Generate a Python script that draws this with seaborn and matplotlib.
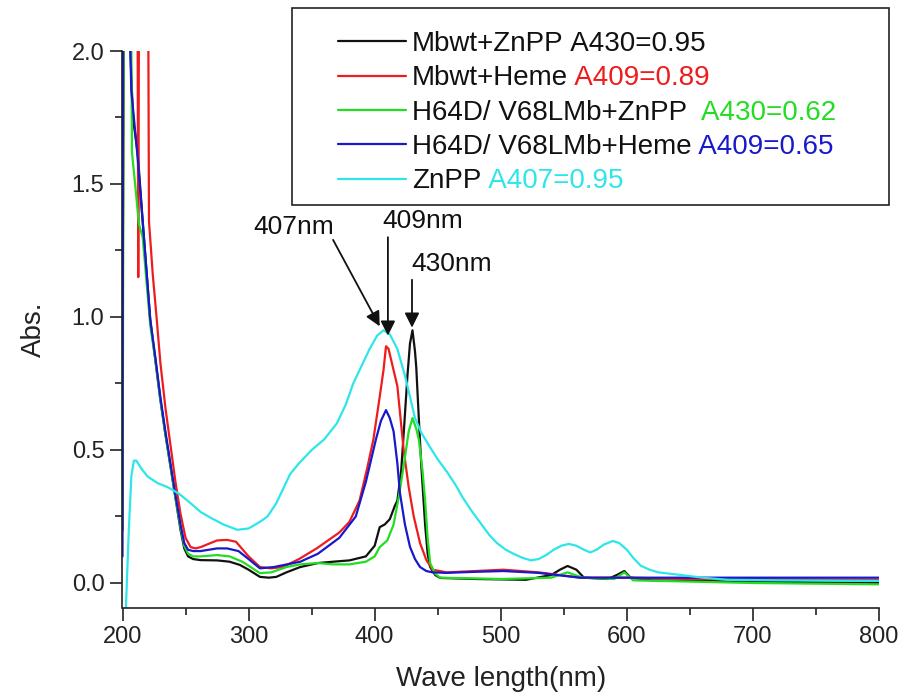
import matplotlib
matplotlib.use("Agg")
import matplotlib.pyplot as plt
from matplotlib.patches import Rectangle
from matplotlib.ticker import MultipleLocator, FormatStrFormatter
import pandas as pd
import seaborn as sns

# ---- spectra (wavelength in nm, absorbance) ----
black_nm = [200, 200.5, 206, 207, 208.5, 212, 216, 222, 226, 230, 234, 238, 242, 246, 249, 252, 256,
            262, 275, 285, 293, 300, 309, 316, 322, 330, 341, 355, 367, 380, 393, 400, 404, 408, 412,
            416, 418, 421, 423, 426, 428, 430, 432, 433, 435, 437, 440, 442, 444, 448, 452, 480, 520,
            540, 547, 553, 560, 566, 585, 592, 598, 603, 620, 700, 800]
black_abs = [0.2, 2.05, 2.05, 1.9, 1.74, 1.62, 1.36, 0.99, 0.84, 0.69, 0.56, 0.44, 0.32, 0.20, 0.13,
             0.10, 0.09, 0.086, 0.085, 0.08, 0.068, 0.05, 0.023, 0.02, 0.023, 0.04, 0.06, 0.075, 0.08,
             0.085, 0.10, 0.14, 0.21, 0.22, 0.24, 0.29, 0.31, 0.42, 0.56, 0.78, 0.90, 0.95, 0.87, 0.81,
             0.62, 0.44, 0.22, 0.11, 0.06, 0.03, 0.019, 0.015, 0.012, 0.03, 0.05, 0.064, 0.05, 0.02,
             0.015, 0.03, 0.045, 0.02, 0.01, 0.005, 0.0]

red_nm = [200, 201, 212, 212.5, 213, 220.5, 221, 224, 227, 230, 234, 238, 242, 246, 250, 254, 258,
          262, 275, 283, 290, 300, 309, 318, 327, 340, 354, 372, 380, 388, 394, 399, 404, 407, 409,
          411, 413, 418, 423, 427, 431, 436, 441, 446, 457, 480, 502, 530, 563, 600, 650, 800]
red_abs = [0.9, 2.05, 2.05, 1.15, 2.05, 2.05, 1.36, 1.16, 1.0, 0.83, 0.66, 0.52, 0.38, 0.26, 0.17,
           0.135, 0.13, 0.135, 0.16, 0.162, 0.155, 0.10, 0.06, 0.055, 0.06, 0.09, 0.13, 0.19, 0.23,
           0.31, 0.43, 0.54, 0.70, 0.80, 0.89, 0.88, 0.84, 0.74, 0.50, 0.36, 0.25, 0.15, 0.086, 0.05,
           0.04, 0.045, 0.05, 0.04, 0.02, 0.02, 0.015, 0.012]

green_nm = [200, 201, 207, 207.5, 210, 213, 216, 222, 226, 230, 234, 238, 242, 246, 249, 252, 256,
            262, 275, 285, 295, 300, 309, 318, 330, 341, 355, 367, 380, 393, 400, 404, 410, 415, 419,
            423, 427, 430, 433, 435, 438, 440, 442, 444, 448, 452, 500, 540, 553, 565, 590, 598, 605,
            700, 800]
green_abs = [0.2, 2.05, 2.05, 1.62, 1.5, 1.35, 1.3, 0.97, 0.84, 0.69, 0.56, 0.44, 0.32, 0.21, 0.14,
             0.11, 0.10, 0.10, 0.105, 0.10, 0.08, 0.065, 0.037, 0.04, 0.06, 0.07, 0.075, 0.07, 0.07,
             0.08, 0.10, 0.135, 0.16, 0.22, 0.32, 0.44, 0.57, 0.62, 0.58, 0.54, 0.42, 0.31, 0.17,
             0.075, 0.035, 0.02, 0.015, 0.02, 0.04, 0.02, 0.015, 0.04, 0.01, 0.0, -0.005]

blue_nm = [200, 200.5, 206, 207, 212, 216, 222, 226, 230, 234, 238, 242, 246, 249, 252, 256, 262,
           275, 283, 292, 300, 309, 320, 341, 355, 372, 385, 393, 397, 401, 405, 409, 412, 415, 418,
           420, 424, 428, 432, 436, 441, 446, 457, 480, 502, 530, 563, 800]
blue_abs = [0.1, 2.05, 2.05, 1.85, 1.6, 1.36, 0.99, 0.85, 0.70, 0.57, 0.45, 0.33, 0.22, 0.15, 0.125,
            0.12, 0.12, 0.13, 0.13, 0.12, 0.09, 0.055, 0.06, 0.08, 0.11, 0.17, 0.25, 0.38, 0.46, 0.54,
            0.61, 0.65, 0.62, 0.57, 0.45, 0.34, 0.22, 0.136, 0.09, 0.06, 0.045, 0.04, 0.038, 0.042,
            0.045, 0.038, 0.02, 0.02]

cyan_nm = [202.5, 205, 207, 209, 211, 215, 220, 228, 236, 245, 254, 262, 270, 280, 291, 300, 309,
           315, 322, 328, 333, 340, 350, 360, 370, 377, 383, 390, 396, 402, 407, 412, 418, 424, 428,
           432, 437, 444, 450, 457, 464, 470, 477, 484, 491, 497, 504, 510, 517, 524, 530, 536, 542,
           548, 554, 560, 566, 571, 576, 582, 589, 594, 600, 605, 611, 618, 625, 643, 660, 680, 720,
           800]
cyan_abs = [-0.12, 0.2, 0.40, 0.46, 0.46, 0.43, 0.40, 0.375, 0.36, 0.335, 0.30, 0.267, 0.245, 0.22,
            0.20, 0.205, 0.23, 0.25, 0.30, 0.36, 0.41, 0.45, 0.50, 0.54, 0.60, 0.67, 0.75, 0.82, 0.88,
            0.93, 0.95, 0.935, 0.88, 0.78, 0.70, 0.62, 0.565, 0.51, 0.465, 0.42, 0.37, 0.32, 0.27,
            0.225, 0.18, 0.15, 0.125, 0.11, 0.095, 0.085, 0.09, 0.105, 0.125, 0.14, 0.147, 0.14,
            0.125, 0.115, 0.125, 0.145, 0.158, 0.15, 0.125, 0.095, 0.065, 0.05, 0.04, 0.03, 0.02,
            0.012, 0.01, 0.008]

names = ["Mbwt+ZnPP", "Mbwt+Heme", "H64D/ V68LMb+ZnPP", "H64D/ V68LMb+Heme", "ZnPP"]
peak_notes = ["A430=0.95", "A409=0.89", "A430=0.62", "A409=0.65", "A407=0.95"]
note_gaps = [" ", " ", "  ", " ", " "]
colors = ["#111111", "#ee1c1c", "#22dd22", "#1818cc", "#2ee6ea"]
note_colors = ["#111111", "#ee1c1c", "#22dd22", "#1818cc", "#2ee6ea"]

# peak callouts: label, text position, arrow tail and tip (nm, abs)
callout_labels = ["407nm", "409nm", "430nm"]
callout_text_xy = [(336, 1.34), (438, 1.36), (461, 1.20)]
callout_tail_xy = [(367, 1.29), (410.5, 1.30), (429.6, 1.14)]
callout_tip_xy = [(404, 0.965), (410.5, 0.93), (429.6, 0.96)]

series = [(black_nm, black_abs), (red_nm, red_abs), (green_nm, green_abs),
          (blue_nm, blue_abs), (cyan_nm, cyan_abs)]

frames = []
for name, (nm, ab) in zip(names, series):
    frames.append(pd.DataFrame({"nm": nm, "abs": ab, "series": name}))
df = pd.concat(frames, ignore_index=True)

sns.set_theme(style="ticks")
plt.rcParams["font.family"] = ["Liberation Sans", "DejaVu Sans"]

fig = plt.figure(figsize=(8.98, 6.95), dpi=100)
ax = fig.add_axes([122.5 / 898, 1 - 608 / 695, (879 - 122.5) / 898, (608 - 51) / 695])

for name, col in zip(names, colors):
    sub = df[df["series"] == name]
    sns.lineplot(data=sub, x="nm", y="abs", ax=ax, color=col, lw=1.6,
                 estimator=None, sort=False, legend=False)

ax.set_xlim(200, 800)
ax.set_ylim(-0.094, 2.0)
ax.xaxis.set_major_locator(MultipleLocator(100))
ax.xaxis.set_minor_locator(MultipleLocator(50))
ax.yaxis.set_major_locator(MultipleLocator(0.5))
ax.yaxis.set_minor_locator(MultipleLocator(0.25))
ax.yaxis.set_major_formatter(FormatStrFormatter("%.1f"))
ax.tick_params(which="major", direction="out", length=9, width=1.2, labelsize=17,
               color="#222222", labelcolor="#222222", pad=4)
ax.tick_params(which="minor", direction="out", length=5, width=1.2, color="#222222")
for side in ["top", "right"]:
    ax.spines[side].set_visible(False)
for side in ["left", "bottom"]:
    ax.spines[side].set_linewidth(1.2)
    ax.spines[side].set_color("#222222")
ax.set_xlabel("Wave length(nm)", fontsize=20, color="#222222", labelpad=13)
ax.set_ylabel("Abs.", fontsize=20, color="#222222", labelpad=18)

for lab, txy, tail, tip in zip(callout_labels, callout_text_xy, callout_tail_xy, callout_tip_xy):
    ax.text(txy[0], txy[1], lab, fontsize=19, ha="center", va="center", color="#111111")
    ax.annotate("", xy=tip, xytext=tail,
                arrowprops=dict(arrowstyle="-|>", color="#111111", lw=1.3,
                                mutation_scale=22, shrinkA=0, shrinkB=0))

# legend box and entries
box = Rectangle((292 / 898, 1 - 205 / 695), (889 - 292) / 898, (205 - 8) / 695,
                transform=fig.transFigure, fill=False, ec="#222222", lw=1.2, zorder=5)
fig.add_artist(box)
handles = ax.get_lines()[:len(names)]
leg = ax.legend(handles, names, loc="upper left",
                bbox_to_anchor=(338 / 898, 1 - 31 / 695), bbox_transform=fig.transFigure,
                frameon=False, fontsize=20, handlelength=2.45, handletextpad=0.22,
                labelspacing=0.3, borderpad=0, borderaxespad=0)
for t in leg.get_texts():
    t.set_color("#111111")

fig.canvas.draw()
for t, note, gap, ncol in zip(leg.get_texts(), peak_notes, note_gaps, note_colors):
    ax.annotate(gap + note, xy=(1, 0), xycoords=t, ha="left", va="bottom",
                fontsize=20, color=ncol, annotation_clip=False)

fig.savefig("out.png", dpi=100)
